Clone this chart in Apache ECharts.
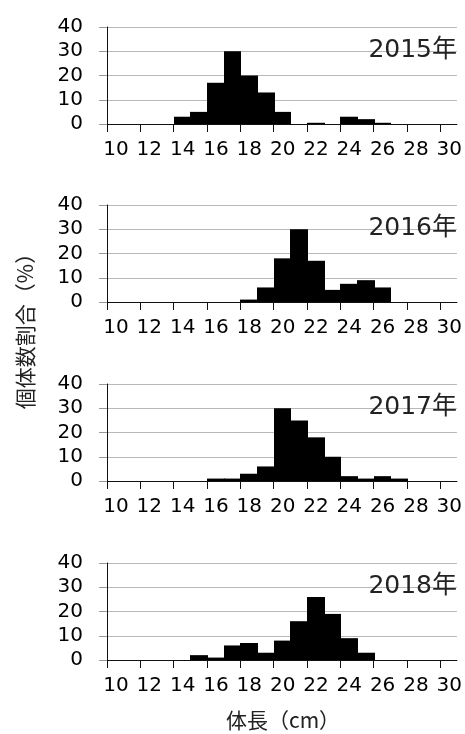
<!DOCTYPE html>
<html>
<head>
<meta charset="utf-8">
<script src="https://cdn.jsdelivr.net/npm/echarts@6/dist/echarts.min.js"></script>
<style>
  html, body { margin: 0; padding: 0; background: #fff; }
  #chart { width: 465px; height: 734px; }
</style>
</head>
<body>
<div id="chart"></div>
<script>
// Body-length bins (cm, lower edge), each 1 cm wide
const binStarts = [10, 11, 12, 13, 14, 15, 16, 17, 18, 19, 20, 21, 22, 23, 24, 25, 26, 27, 28, 29, 30];
const binWidth = 1;

// Share of individuals (%) per bin, by year
const pct2015 = [0, 0, 0, 0, 3, 5, 17, 30, 20, 13, 5, 0, 0.5, 0, 3, 2, 0.5, 0, 0, 0, 0];
const pct2016 = [0, 0, 0, 0, 0, 0, 0, 0, 1, 6, 18, 30, 17, 5, 7.5, 9, 6, 0, 0, 0, 0];
const pct2017 = [0, 0, 0, 0, 0, 0, 1, 1, 3, 6, 30, 25, 18, 10, 2, 1, 2, 1, 0, 0, 0];
const pct2018 = [0, 0, 0, 0, 0, 2, 1, 6, 7, 3, 8, 16, 26, 19, 9, 3, 0, 0, 0, 0, 0];

const years = ['2015年', '2016年', '2017年', '2018年'];
const seriesValues = [pct2015, pct2016, pct2017, pct2018];

// Axis tick labels
const xTickValues = [10, 12, 14, 16, 18, 20, 22, 24, 26, 28, 30];
const yTickValues = [0, 10, 20, 30, 40];

const xAxisTitle = '体長（cm）';
const yAxisTitle = '個体数割合（%）';

const numFont = '"DejaVu Sans", "Noto Sans CJK JP", sans-serif';
const cjkFont = '"Noto Sans CJK JP", "DejaVu Sans", sans-serif';

const gridTops = [27, 205, 384, 563];
const gridHeight = 97;

const grids = [], xAxes = [], yAxes = [], series = [], titles = [];

gridTops.forEach((top, i) => {
  grids.push({ left: 107, right: 6, top: top, height: gridHeight });

  xAxes.push({
    type: 'value', gridIndex: i, min: 10, max: 31,
    axisLine: { show: true, lineStyle: { color: '#111', width: 1 } },
    axisTick: { show: true, length: 8, inside: false, customValues: xTickValues,
                lineStyle: { color: '#111' } },
    axisLabel: { show: true, customValues: xTickValues, margin: 16,
                 fontFamily: numFont, fontSize: 20, color: '#000',
                 padding: [0, 0, 0, 18] },
    splitLine: { show: false }
  });

  yAxes.push({
    type: 'value', gridIndex: i, min: 0, max: 40, interval: 10,
    axisLine: { show: true, lineStyle: { color: '#111', width: 1 } },
    axisTick: { show: true, length: 8, inside: false, lineStyle: { color: '#999' } },
    axisLabel: { show: true, margin: 24, fontFamily: numFont, fontSize: 20, color: '#000',
                 customValues: yTickValues },
    splitLine: { show: true, lineStyle: { color: '#b8b8b8', width: 1 } }
  });

  series.push({
    type: 'custom', xAxisIndex: i, yAxisIndex: i,
    data: binStarts.map((b, k) => [b, seriesValues[i][k]]),
    encode: { x: 0, y: 1 },
    renderItem: function (params, api) {
      const x0 = api.value(0);
      const v = api.value(1);
      if (!(v > 0)) return null;
      const base = api.coord([x0, 0]);
      const tip = api.coord([x0 + binWidth, v]);
      // snap bin edges to whole pixels and overlap by one so neighbouring bars join
      const left = Math.round(base[0]);
      const right = Math.round(tip[0]) + 1;
      return {
        type: 'rect',
        shape: { x: left, y: tip[1], width: right - left, height: base[1] - tip[1] },
        style: { fill: '#000', stroke: null }
      };
    }
  });

  titles.push({
    text: years[i], right: 8, top: top + 11, padding: 0,
    textStyle: { fontFamily: numFont, fontSize: 25, fontWeight: 'normal', color: '#222' }
  });
});

const chart = echarts.init(document.getElementById('chart'), null, { renderer: 'canvas' });
chart.setOption({
  animation: false,
  backgroundColor: '#fff',
  title: titles,
  grid: grids,
  xAxis: xAxes,
  yAxis: yAxes,
  series: series,
  graphic: [
    {
      type: 'text', x: 25, y: 326, rotation: Math.PI / 2,
      style: { text: yAxisTitle, fontFamily: cjkFont, fontSize: 21, fill: '#222',
               align: 'center', verticalAlign: 'middle' }
    },
    {
      type: 'text', x: 283, y: 720,
      style: { text: xAxisTitle, fontFamily: cjkFont, fontSize: 21, fill: '#222',
               align: 'center', verticalAlign: 'middle' }
    }
  ]
});
</script>
</body>
</html>
